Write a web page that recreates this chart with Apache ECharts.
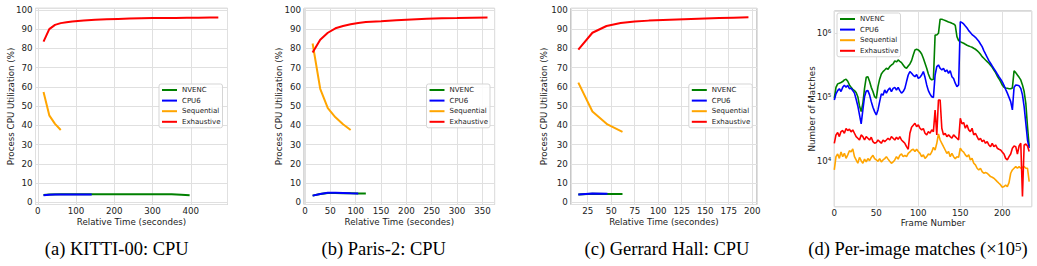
<!DOCTYPE html>
<html>
<head>
<meta charset="utf-8">
<script src="https://cdn.jsdelivr.net/npm/echarts@6/dist/echarts.min.js"></script>
<style>
html, body { margin: 0; padding: 0; background: #fff; }
#chart { width: 1037px; height: 266px; }
</style>
</head>
<body>
<div id="chart"></div>
<script>
// (a) KITTI-00 : CPU utilisation (%) over relative time (s)
const kittiTimeNvenc = [15, 30, 60, 100, 150, 200, 250, 300, 350, 375, 397];
const kittiNvenc = [3.8, 4.1, 4.2, 4.2, 4.2, 4.2, 4.2, 4.2, 4.2, 4.0, 3.7];
const kittiTimeCpu6 = [15, 30, 45, 60, 90, 120, 141];
const kittiCpu6 = [3.7, 4.0, 4.1, 4.1, 4.1, 4.1, 4.1];
const kittiTimeSeq = [15, 30, 45, 60];
const kittiSequential = [57.3, 45.2, 40.8, 37.6];
const kittiTimeExh = [15, 30, 45, 60, 75, 90, 105, 120, 150, 180, 210, 240, 270, 300, 330, 360, 390, 420, 450, 472];
const kittiExhaustive = [83.5, 90.0, 92.2, 93.1, 93.5, 93.9, 94.2, 94.4, 94.8, 95.1, 95.3, 95.5, 95.6, 95.7, 95.8, 95.8, 95.9, 95.9, 96.0, 96.0];

// (b) Paris-2
const parisTimeNvenc = [15, 30, 45, 60, 75, 90, 105, 120];
const parisNvenc = [3.5, 4.4, 4.9, 4.9, 4.8, 4.7, 4.6, 4.6];
const parisTimeCpu6 = [15, 30, 45, 60, 75, 90, 105];
const parisCpu6 = [3.5, 4.4, 5.0, 5.0, 4.9, 4.7, 4.6];
const parisTimeSeq = [15, 30, 45, 60, 75, 90];
const parisSequential = [82.5, 59.0, 49.0, 44.2, 40.6, 37.6];
const parisTimeExh = [15, 30, 45, 60, 75, 90, 105, 120, 150, 180, 210, 240, 270, 300, 330, 360];
const parisExhaustive = [77.9, 84.5, 88.1, 90.4, 91.6, 92.5, 93.2, 93.7, 94.1, 94.6, 95.0, 95.4, 95.6, 95.7, 95.9, 96.0];

// (c) Gerrard Hall
const gerrardTimeNvenc = [15, 30, 46, 62];
const gerrardNvenc = [4.1, 4.5, 4.4, 4.4];
const gerrardTimeCpu6 = [15, 30, 46];
const gerrardCpu6 = [4.1, 4.6, 4.5];
const gerrardTimeSeq = [15, 30, 46, 62];
const gerrardSequential = [62.2, 47.2, 40.5, 36.6];
const gerrardTimeExh = [15, 30, 45, 60, 75, 90, 105, 120, 135, 150, 165, 180, 196];
const gerrardExhaustive = [79.3, 88.1, 91.6, 93.2, 93.9, 94.4, 94.7, 95.0, 95.3, 95.5, 95.7, 95.9, 96.1];

// (d) per-image matches, every 2nd frame
const matchFrames = [0, 2, 4, 6, 8, 10, 12, 14, 16, 18, 20, 22, 24, 26, 28, 30, 32, 34, 36, 38,
  40, 42, 44, 46, 48, 50, 52, 54, 56, 58, 60, 62, 64, 66, 68, 70, 72, 74, 76, 78,
  80, 82, 84, 86, 88, 90, 92, 94, 96, 98, 100, 102, 104, 106, 108, 110, 112, 114, 116, 118,
  120, 122, 124, 126, 128, 130, 132, 134, 136, 138, 140, 142, 144, 146, 148, 150, 152, 154, 156, 158,
  160, 162, 164, 166, 168, 170, 172, 174, 176, 178, 180, 182, 184, 186, 188, 190, 192, 194, 196, 198,
  200, 202, 204, 206, 208, 210, 212, 214, 216, 218, 220, 222, 224, 226, 228, 230, 232];
const nvencMatches = [96500, 143000, 162000, 166000, 170000, 176000, 187000, 192000, 178000, 156000,
  143000, 133000, 127000, 119000, 102000, 73200, 59700, 80600, 138000, 205000,
  210000, 176000, 143000, 123000, 102000, 96500, 147000, 192000, 231000, 252000,
  267000, 284000, 274000, 301000, 320000, 332000, 370000, 357000, 383000, 365000,
  348000, 320000, 294000, 284000, 308000, 332000, 374000, 459000, 550000, 563000,
  550000, 518000, 475000, 407000, 340000, 284000, 231000, 198000, 187000, 192000,
  942000, 942000, 1000000, 1660000, 1660000, 1620000, 1580000, 1540000, 1500000, 1470000,
  1430000, 1400000, 1330000, 887000, 768000, 741000, 715000, 698000, 673000, 650000,
  635000, 619000, 604000, 583000, 563000, 537000, 506000, 470000, 432000, 407000,
  383000, 361000, 340000, 316000, 294000, 267000, 243000, 215000, 195000, 175000,
  155000, 143000, 140000, 138000, 136000, 136000, 140000, 258000, 243000, 223000,
  205000, 187000, 156000, 123000, 80600, 34800, 16900];
const cpu6Matches = [90800, 113000, 127000, 136000, 123000, 143000, 154000, 143000, 154000, 136000,
  138000, 127000, 116000, 93100, 73200, 53000, 38400, 63400, 102000, 125000,
  127000, 109000, 85500, 69800, 59700, 53000, 63400, 85500, 113000, 108000,
  130000, 116000, 130000, 140000, 122000, 138000, 143000, 130000, 143000, 127000,
  116000, 123000, 138000, 176000, 223000, 252000, 237000, 220000, 210000, 226000,
  198000, 205000, 223000, 252000, 205000, 156000, 127000, 112000, 102000, 99600,
  223000, 301000, 320000, 284000, 267000, 284000, 252000, 267000, 237000, 261000,
  210000, 196000, 166000, 147000, 156000, 1520000, 1470000, 1400000, 1300000, 1210000,
  1100000, 1030000, 953000, 909000, 866000, 806000, 750000, 681000, 619000, 537000,
  475000, 422000, 374000, 340000, 308000, 281000, 255000, 231000, 210000, 192000,
  174000, 154000, 133000, 116000, 99600, 85500, 63400, 143000, 156000, 154000,
  151000, 138000, 109000, 71500, 39300, 21500, 16000];
const sequentialMatches = [7320, 11800, 13000, 11100, 14000, 11800, 13300, 11100, 12600, 14600,
  14000, 15600, 11800, 10500, 9310, 11500, 10200, 9310, 10800, 9770,
  11000, 10200, 11500, 12400, 11000, 10500, 10000, 11000, 9770, 10500,
  11000, 11800, 10800, 10000, 9310, 9770, 10500, 11800, 10800, 12400,
  13000, 11800, 12400, 11800, 13300, 14000, 15000, 15400, 14200, 15400,
  14200, 13300, 11800, 12600, 11100, 11800, 13000, 12600, 14000, 16500,
  15000, 19100, 26700, 21500, 19100, 16900, 15000, 13300, 14200, 11800,
  13300, 11800, 11000, 11800, 11500, 16000, 14600, 13900, 12600, 11800,
  12600, 10500, 11100, 9310, 8770, 7780, 7320, 7780, 6900, 6500,
  6660, 6500, 6120, 5760, 5620, 5420, 5110, 4810, 4530, 4270,
  3920, 4020, 4220, 4020, 4640, 6500, 7320, 7780, 8260, 7780,
  8260, 7780, 8060, 8260, 7780, 7780, 4810];
const exhaustiveMatches = [19100, 25800, 28100, 24300, 29100, 30200, 27400, 32400, 30200, 31700,
  28800, 30900, 27400, 24300, 22900, 21500, 25800, 24300, 21500, 24300,
  22900, 21500, 23700, 20300, 19100, 19600, 21500, 20300, 19100, 21500,
  20300, 21500, 22900, 21500, 24300, 22900, 21500, 23700, 22000, 24300,
  21500, 20300, 19100, 16900, 15400, 27400, 34000, 36600, 39300, 34800,
  37000, 32800, 30900, 32400, 27400, 25800, 29100, 27400, 30900, 29100,
  63400, 25800, 90800, 90800, 32800, 25800, 27400, 24300, 25800, 24300,
  22900, 25800, 24300, 22900, 21500, 47000, 38400, 40300, 32800, 37000,
  30900, 29100, 32800, 25800, 27400, 24300, 21500, 22900, 20300, 21500,
  19100, 20300, 18000, 16900, 19100, 16900, 18000, 16000, 15400, 15000,
  13900, 13000, 11100, 10500, 11800, 13000, 16000, 17300, 16900, 13000,
  17300, 19100, 2810, 18000, 18600, 17300, 14200];

const seriesNames = ['NVENC', 'CPU6', 'Sequential', 'Exhaustive'];
const colors = { NVENC: '#008000', CPU6: '#0000ff', Sequential: '#ffa500', Exhaustive: '#ff0000' };
const FONT = 'DejaVu Sans';
const TXT = '#222';

const pairs = (xs, ys) => xs.map((x, i) => [x, ys[i]]);
const supDigits = { 4: '\u2074', 5: '\u2075', 6: '\u2076' };

function axisBase(grid, name, gap, margin) {
  return {
    gridIndex: grid,
    name: name,
    nameLocation: 'middle',
    nameGap: gap,
    nameMoveOverlap: false,
    nameTextStyle: { fontFamily: FONT, fontSize: 8.7, color: TXT },
    axisLine: { show: false },
    axisTick: { show: false },
    axisLabel: { fontFamily: FONT, fontSize: 8.7, color: TXT, margin: margin, showMinLabel: false, showMaxLabel: false },
    splitLine: { show: true, lineStyle: { color: '#e0e0e0', width: 1 } }
  };
}

function linAxis(grid, min, max, step, name, gap, margin) {
  return Object.assign(axisBase(grid, name, gap, margin), {
    type: 'value', min: min, max: max, minInterval: step, maxInterval: step
  });
}

function cpuSeries(grid, data) {
  return seriesNames.map((n, k) => ({
    name: n,
    type: 'line',
    xAxisIndex: grid,
    yAxisIndex: grid,
    data: data[k],
    showSymbol: false,
    color: colors[n],
    lineStyle: { color: colors[n], width: 2 },
    emphasis: { disabled: true }
  }));
}

function legendAt(left, top) {
  return {
    orient: 'vertical', left: left, top: top,
    icon: 'rect', itemWidth: 15, itemHeight: 2, itemGap: 2.6,
    padding: [2, 2, 2, 3],
    borderColor: '#d5d5d5', borderWidth: 1, borderRadius: 2,
    backgroundColor: 'rgba(255,255,255,0.85)',
    textStyle: { fontFamily: FONT, fontSize: 7, color: TXT, lineHeight: 8 },
    selectedMode: false,
    data: seriesNames
  };
}

const frame = { show: true, borderColor: '#b0b0b0', borderWidth: 1, backgroundColor: 'transparent' };

const yCpuName = 'Process CPU Utilization (%)';
const xCpuName = 'Relative Time (secondes)';

const logY = Object.assign(axisBase(3, 'Number of Matches', 17.5, 3), {
  type: 'log', logBase: 10, min: 1950, max: 2230000
});
logY.axisLabel.formatter = v => {
  const e = Math.round(Math.log10(v));
  return Math.abs(Math.log10(v) - e) < 1e-6 && supDigits[e] ? '10' + supDigits[e] : '';
};

const xD = linAxis(3, 0, 235, 50, 'Frame Number', 12, 1.5);
xD.axisLabel.showMinLabel = true;

const option = {
  animation: false,
  backgroundColor: '#fff',
  grid: [
    Object.assign({ left: 35.5, top: 8.3, width: 192, height: 196.2 }, frame),
    Object.assign({ left: 304, top: 8.3, width: 190.6, height: 196.2 }, frame),
    Object.assign({ left: 570.8, top: 8.3, width: 186.1, height: 196.2 }, frame),
    Object.assign({ left: 834.3, top: 11, width: 197.4, height: 195.7 }, frame)
  ],
  xAxis: [
    linAxis(0, -6, 496, 100, xCpuName, 12.5, 2),
    linAxis(1, -2, 374, 50, xCpuName, 12.5, 2),
    linAxis(2, 7, 205, 25, xCpuName, 12.5, 2),
    xD
  ],
  yAxis: [
    linAxis(0, -1.1, 100.8, 10, yCpuName, 20, 3),
    linAxis(1, -1.1, 100.8, 10, yCpuName, 21, 3),
    linAxis(2, -1.1, 100.8, 10, yCpuName, 22, 3),
    logY
  ],
  legend: [legendAt(159, 84), legendAt(426.5, 84), legendAt(688.8, 84), legendAt(837, 13)],
  series: [].concat(
    cpuSeries(0, [pairs(kittiTimeNvenc, kittiNvenc), pairs(kittiTimeCpu6, kittiCpu6),
      pairs(kittiTimeSeq, kittiSequential), pairs(kittiTimeExh, kittiExhaustive)]),
    cpuSeries(1, [pairs(parisTimeNvenc, parisNvenc), pairs(parisTimeCpu6, parisCpu6),
      pairs(parisTimeSeq, parisSequential), pairs(parisTimeExh, parisExhaustive)]),
    cpuSeries(2, [pairs(gerrardTimeNvenc, gerrardNvenc), pairs(gerrardTimeCpu6, gerrardCpu6),
      pairs(gerrardTimeSeq, gerrardSequential), pairs(gerrardTimeExh, gerrardExhaustive)]),
    cpuSeries(3, [pairs(matchFrames, nvencMatches), pairs(matchFrames, cpu6Matches),
      pairs(matchFrames, sequentialMatches), pairs(matchFrames, exhaustiveMatches)])
      .map(s => Object.assign(s, { lineStyle: { color: s.color, width: 1.6 } }))
  ),
  graphic: [
    { type: 'text', x: 116.7, y: 249, style: { text: '(a) KITTI-00: CPU', fontFamily: 'Liberation Serif', fontSize: 18.5, fill: '#000', align: 'center', verticalAlign: 'middle' } },
    { type: 'text', x: 383.8, y: 249, style: { text: '(b) Paris-2: CPU', fontFamily: 'Liberation Serif', fontSize: 18.5, fill: '#000', align: 'center', verticalAlign: 'middle' } },
    { type: 'text', x: 667, y: 249, style: { text: '(c) Gerrard Hall: CPU', fontFamily: 'Liberation Serif', fontSize: 18.5, fill: '#000', align: 'center', verticalAlign: 'middle' } },
    { type: 'text', x: 918, y: 249, style: {
      text: '(d) Per-image matches (\u00d710{sup|5})', fontFamily: 'Liberation Serif', fontSize: 18.5, fill: '#000', align: 'center', verticalAlign: 'middle',
      rich: { sup: { fontFamily: 'Liberation Serif', fontSize: 13, fill: '#000', verticalAlign: 'top', padding: [0, 0, 4, 0] } }
    } }
  ]
};

const chart = echarts.init(document.getElementById('chart'), null, { renderer: 'svg' });
chart.setOption(option);
window.addEventListener('resize', () => chart.resize());
</script>
</body>
</html>
